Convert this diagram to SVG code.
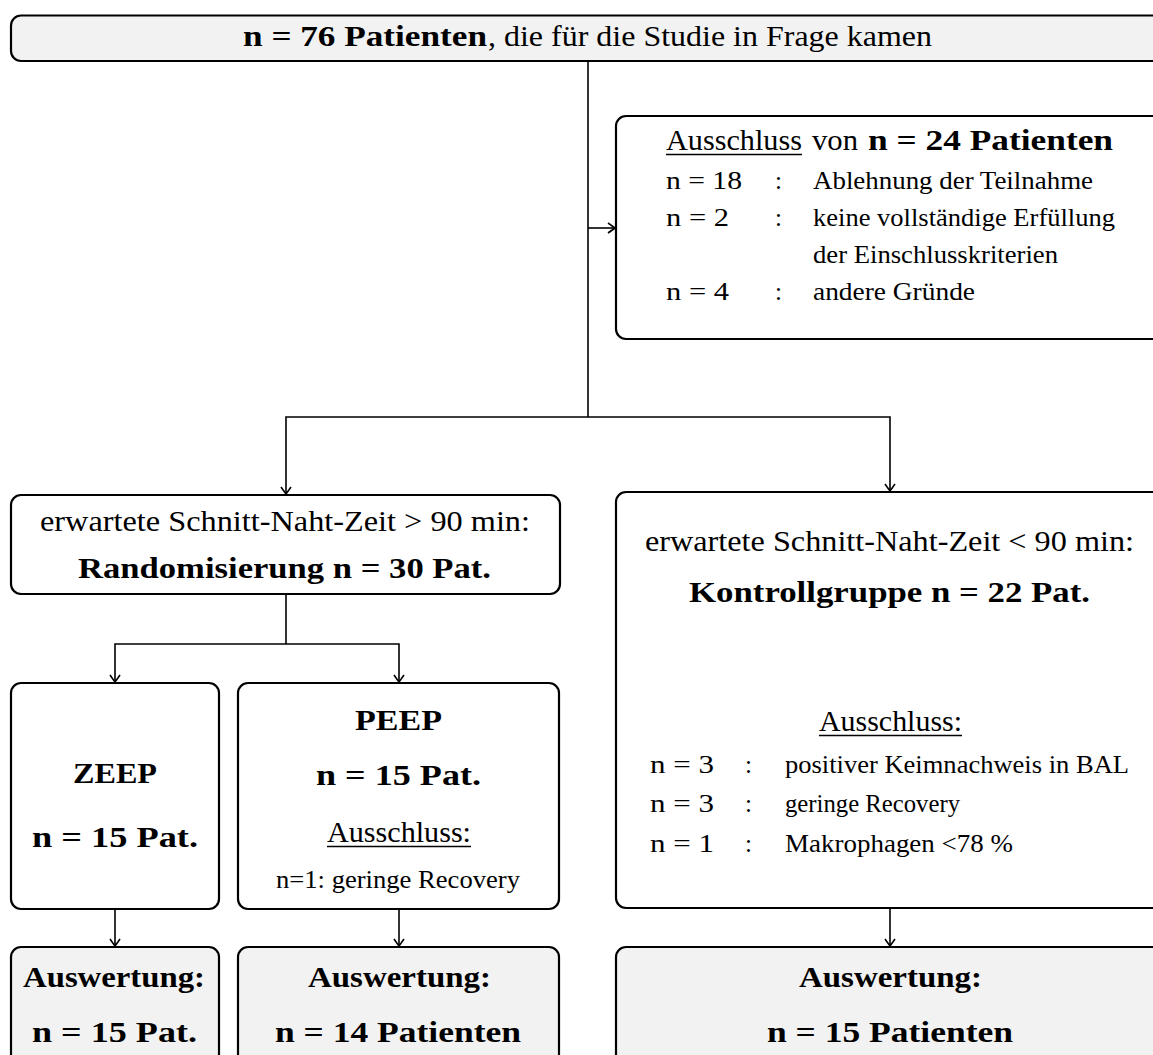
<svg xmlns="http://www.w3.org/2000/svg" width="1153" height="1055" viewBox="0 0 1153 1055">
<defs>
<marker id="arr" markerUnits="userSpaceOnUse" markerWidth="20" markerHeight="20" viewBox="-10 -10 20 20" refX="0" refY="0" orient="auto">
<path d="M-7,-5 Q-2,-1.5 0,0 Q-2,1.5 -7,5" fill="none" stroke="#000" stroke-width="1.6"/>
</marker>
<style>
.box{fill:#fff;stroke:#000;stroke-width:2.2}
.grey{fill:#f2f2f2}
.c{fill:none;stroke:#000;stroke-width:1.6}
.a{marker-end:url(#arr)}
text{font-family:"Liberation Serif","Times New Roman",serif;fill:#000}
.L{font-size:30px}
.S{font-size:25px}
.b{font-weight:bold}
.u{stroke:#000;stroke-width:1.3}
</style>
</defs>
<rect width="1153" height="1055" fill="#fff"/>

<g id="connectors">
<path class="c" d="M588,61 V417"/>
<path class="c a" d="M588,228 H615"/>
<path class="c a" d="M588,417 H286 V494"/>
<path class="c a" d="M588,417 H890 V491"/>
<path class="c" d="M286,595 V644"/>
<path class="c a" d="M286,644 H115 V682"/>
<path class="c a" d="M286,644 H399 V682"/>
<path class="c a" d="M115,909 V946"/>
<path class="c a" d="M399,909 V946"/>
<path class="c a" d="M890,908 V946"/>
</g>

<g id="n-start">
<rect class="box grey" x="11" y="15.5" width="1154" height="45.5" rx="10"/>
<text class="L b" x="243" y="46" textLength="244" lengthAdjust="spacingAndGlyphs">n = 76 Patienten</text>
<text class="L" x="488" y="46" textLength="444" lengthAdjust="spacingAndGlyphs">, die für die Studie in Frage kamen</text>
</g>

<g id="n-exclusion">
<rect class="box" x="616" y="116" width="549" height="223" rx="10"/>
<text class="L" x="666" y="150" textLength="136" lengthAdjust="spacingAndGlyphs">Ausschluss</text>
<line class="u" x1="666" y1="154.5" x2="802" y2="154.5"/>
<text class="L" x="812" y="150" textLength="46" lengthAdjust="spacingAndGlyphs">von</text>
<text class="L b" x="868" y="150" textLength="245" lengthAdjust="spacingAndGlyphs">n = 24 Patienten</text>
<text class="S" x="666" y="189" textLength="76" lengthAdjust="spacingAndGlyphs">n = 18</text>
<text class="S" x="775" y="189">:</text>
<text class="S" x="813" y="189" textLength="280" lengthAdjust="spacingAndGlyphs">Ablehnung der Teilnahme</text>
<text class="S" x="666" y="226" textLength="63" lengthAdjust="spacingAndGlyphs">n = 2</text>
<text class="S" x="775" y="226">:</text>
<text class="S" x="813" y="226" textLength="302" lengthAdjust="spacingAndGlyphs">keine vollständige Erfüllung</text>
<text class="S" x="813" y="263" textLength="245" lengthAdjust="spacingAndGlyphs">der Einschlusskriterien</text>
<text class="S" x="666" y="300" textLength="63" lengthAdjust="spacingAndGlyphs">n = 4</text>
<text class="S" x="775" y="300">:</text>
<text class="S" x="813" y="300" textLength="162" lengthAdjust="spacingAndGlyphs">andere Gründe</text>
</g>

<g id="n-random">
<rect class="box" x="11" y="495" width="549" height="99" rx="10"/>
<text class="L" x="40" y="531" textLength="490" lengthAdjust="spacingAndGlyphs">erwartete Schnitt-Naht-Zeit &gt; 90 min:</text>
<text class="L b" x="78" y="578" textLength="413" lengthAdjust="spacingAndGlyphs">Randomisierung n = 30 Pat.</text>
</g>

<g id="n-control">
<rect class="box" x="616" y="492" width="548" height="416" rx="10"/>
<text class="L" x="645" y="551" textLength="489" lengthAdjust="spacingAndGlyphs">erwartete Schnitt-Naht-Zeit &lt; 90 min:</text>
<text class="L b" x="689" y="602" textLength="401" lengthAdjust="spacingAndGlyphs">Kontrollgruppe n = 22 Pat.</text>
<text class="L" x="819" y="731" textLength="143" lengthAdjust="spacingAndGlyphs">Ausschluss:</text>
<line class="u" x1="819" y1="735.5" x2="962" y2="735.5"/>
<text class="S" x="650" y="773" textLength="64" lengthAdjust="spacingAndGlyphs">n = 3</text>
<text class="S" x="745" y="773">:</text>
<text class="S" x="785" y="773" textLength="344" lengthAdjust="spacingAndGlyphs">positiver Keimnachweis in BAL</text>
<text class="S" x="650" y="812" textLength="64" lengthAdjust="spacingAndGlyphs">n = 3</text>
<text class="S" x="745" y="812">:</text>
<text class="S" x="785" y="812" textLength="175" lengthAdjust="spacingAndGlyphs">geringe Recovery</text>
<text class="S" x="650" y="852" textLength="64" lengthAdjust="spacingAndGlyphs">n = 1</text>
<text class="S" x="745" y="852">:</text>
<text class="S" x="785" y="852" textLength="228" lengthAdjust="spacingAndGlyphs">Makrophagen &lt;78 %</text>
</g>

<g id="n-zeep">
<rect class="box" x="11" y="683" width="208" height="226" rx="10"/>
<text class="L b" x="73" y="783" textLength="84" lengthAdjust="spacingAndGlyphs">ZEEP</text>
<text class="L b" x="32" y="847" textLength="166" lengthAdjust="spacingAndGlyphs">n = 15 Pat.</text>
</g>

<g id="n-peep">
<rect class="box" x="238" y="683" width="321" height="226" rx="10"/>
<text class="L b" x="355" y="730" textLength="87" lengthAdjust="spacingAndGlyphs">PEEP</text>
<text class="L b" x="316" y="785" textLength="165" lengthAdjust="spacingAndGlyphs">n = 15 Pat.</text>
<text class="L" x="327" y="842" textLength="144" lengthAdjust="spacingAndGlyphs">Ausschluss:</text>
<line class="u" x1="327" y1="846.5" x2="471" y2="846.5"/>
<text class="S" x="276" y="888" textLength="244" lengthAdjust="spacingAndGlyphs">n=1: geringe Recovery</text>
</g>

<g id="n-eval-zeep">
<rect class="box grey" x="11" y="947" width="208" height="130" rx="10"/>
<text class="L b" x="23" y="987" textLength="182" lengthAdjust="spacingAndGlyphs">Auswertung:</text>
<text class="L b" x="32" y="1042" textLength="165" lengthAdjust="spacingAndGlyphs">n = 15 Pat.</text>
</g>

<g id="n-eval-peep">
<rect class="box grey" x="238" y="947" width="321" height="130" rx="10"/>
<text class="L b" x="308" y="987" textLength="183" lengthAdjust="spacingAndGlyphs">Auswertung:</text>
<text class="L b" x="275" y="1042" textLength="246" lengthAdjust="spacingAndGlyphs">n = 14 Patienten</text>
</g>

<g id="n-eval-control">
<rect class="box grey" x="616" y="947" width="548" height="130" rx="10"/>
<text class="L b" x="799" y="987" textLength="183" lengthAdjust="spacingAndGlyphs">Auswertung:</text>
<text class="L b" x="767" y="1042" textLength="246" lengthAdjust="spacingAndGlyphs">n = 15 Patienten</text>
</g>
</svg>
